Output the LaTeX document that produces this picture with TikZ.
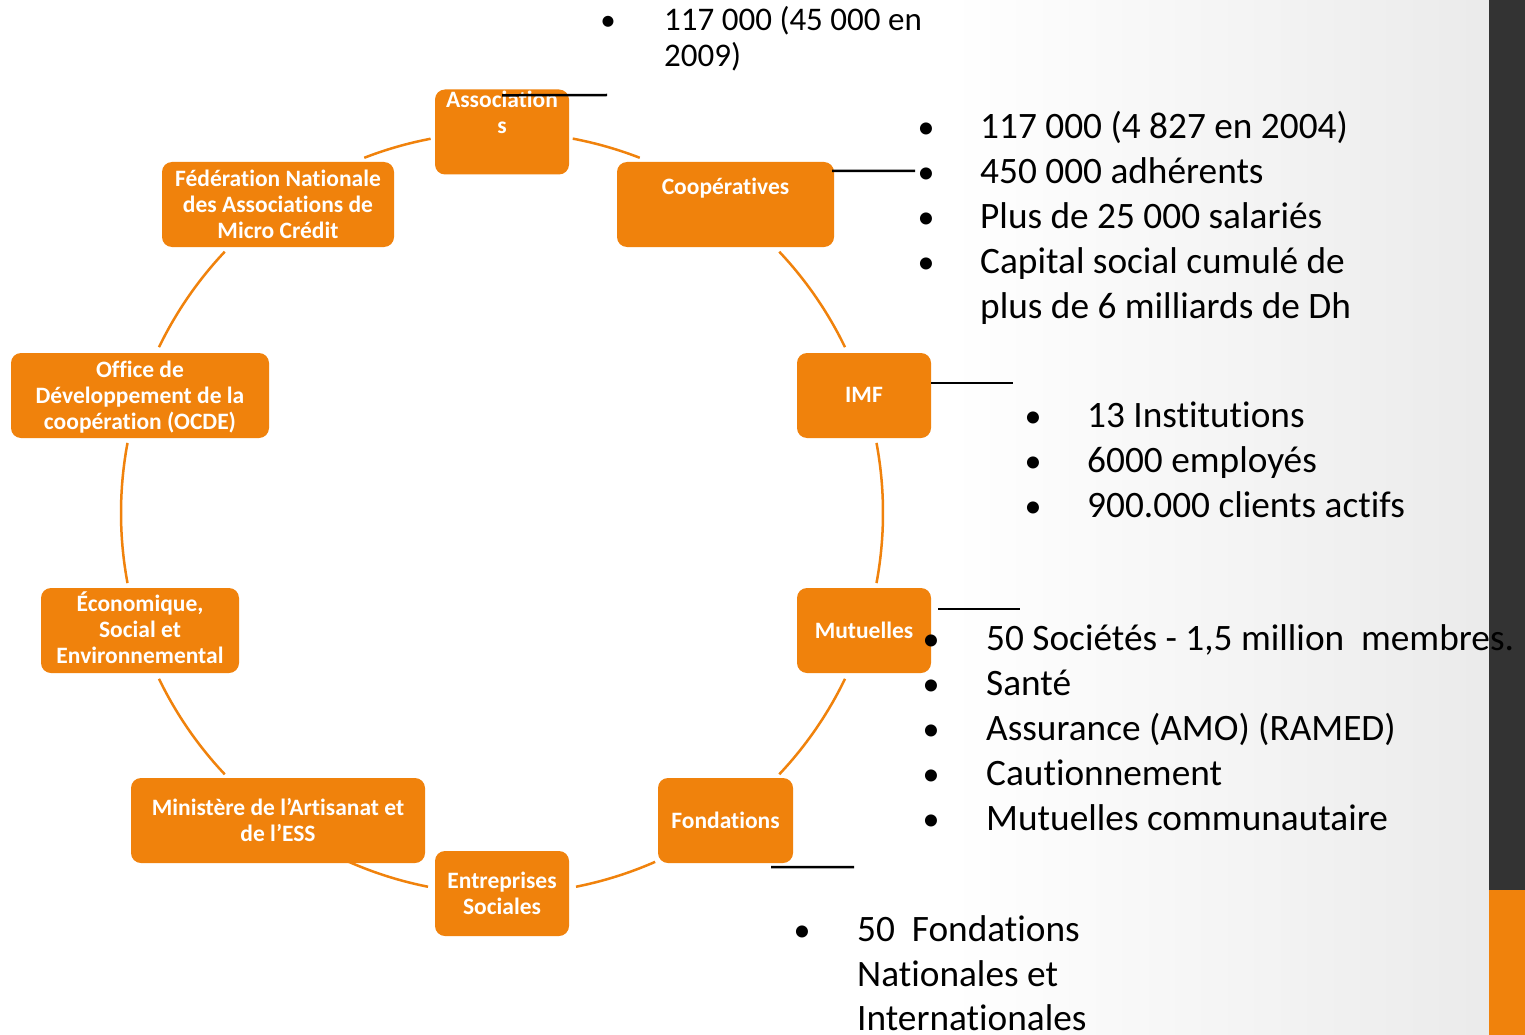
\documentclass[tikz,border=0pt]{standalone}
\usepackage{fontspec}
\setmainfont{Carlito}[Ligatures={NoCommon}]
\definecolor{orng}{RGB}{240,130,12}
\definecolor{darkbar}{RGB}{51,51,51}
\begin{document}
\begin{tikzpicture}[x=1pt,y=-1pt,
  box/.style={draw=none, fill=orng, rounded corners=10pt, inner sep=0pt, minimum width=#1, minimum height=85pt},
  lbl/.style={text=white, font=\fontsize{23.5}{26}\selectfont\bfseries, anchor=base, inner sep=0pt},
  txt/.style={text=black, font=\fontsize{37.3}{45}\selectfont, anchor=base west, inner sep=0pt},
  txts/.style={text=black, font=\fontsize{33}{37}\selectfont, anchor=base west, inner sep=0pt},
  bul/.style={text=black, font=\fontsize{34}{45}\selectfont, anchor=base, inner sep=0pt},
  arcl/.style={draw=orng, line width=2.5pt},
  lead/.style={draw=black, line width=2.5pt}]
\useasboundingbox (0,0) rectangle (1525,1035);
\fill[white] (0,0) rectangle (1525,1035);
\shade[left color=white, right color=black!8] (950,0) rectangle (1489,1035);
\fill[darkbar] (1489,0) rectangle (1525,890);
\fill[orng] (1489,890) rectangle (1525,1035);

% cycle arcs
\coordinate (c) at (502,513);
\foreach \a/\b in {-79.3/-68.8, -43.3/-25.8, -10.6/10.6, 25.8/43.3, 66.3/78.8,
                   101.2/113.7, 136.7/154.2, 169.4/190.6, 205.8/223.3, 248.8/259.2}
  \draw[arcl, domain=\a:\b, samples=40, variable=\t]
    plot ({502+381*cos(\t)}, {513+381*sin(\t)});

% boxes
\node[box=134pt] (assoc) at (502,132) {};
\node[box=217pt] (coop)  at (725.5,204.5) {};
\node[box=232pt] (fed)   at (278,204.5) {};
\node[box=258pt] (ocde)  at (140,395.5) {};
\node[box=198pt] (eco)   at (140,630.5) {};
\node[box=294pt] (min)   at (278,820.5) {};
\node[box=134pt] (entr)  at (502,893.5) {};
\node[box=135pt] (fond)  at (725.5,820.5) {};
\node[box=134pt] (mut)   at (864,630.5) {};
\node[box=134pt] (imf)   at (864,395.5) {};

% box labels
\node[lbl] (assoc1) at (502,108) {Association};
\node[lbl] (assoc2) at (502,134) {s};
\node[lbl] (coop1) at (725.5,194) {Coopératives};
\node[lbl] (fed1) at (278,186) {Fédération Nationale};
\node[lbl] (fed2) at (278,212) {des Associations de};
\node[lbl] (fed3) at (278,238) {Micro Crédit};
\node[lbl] (ocde1) at (140,377) {Office de};
\node[lbl] (ocde2) at (140,403) {Développement de la};
\node[lbl] (ocde3) at (140,429) {coopération (OCDE)};
\node[lbl] (eco1) at (140,611.5) {Économique,};
\node[lbl] (eco2) at (140,637.5) {Social et};
\node[lbl] (eco3) at (140,663.5) {Environnemental};
\node[lbl] (min1) at (278,815) {Ministère de l’Artisanat et};
\node[lbl] (min2) at (278,841) {de l’ESS};
\node[lbl] (entr1) at (502,888) {Entreprises};
\node[lbl] (entr2) at (502,914) {Sociales};
\node[lbl] (fond1) at (725.5,828.5) {Fondations};
\node[lbl] (mut1) at (864,638.5) {Mutuelles};
\node[lbl] (imf1) at (864,402.5) {IMF};

% leader lines
\coordinate (assocEnd) at (607,95);
\coordinate (coopEnd) at (915,171);
\coordinate (imfEnd) at (1013,383);
\coordinate (mutEnd) at (1020,609);
\coordinate (fondEnd) at (854,867);
\draw[lead] ([yshift=-6pt]assoc.north) -- (assocEnd);
\draw[lead] ([xshift=-2pt,yshift=-9pt]coop.north east) -- (coopEnd);
\draw[lead] ([yshift=12.5pt]imf.east) -- (imfEnd);
\draw[lead] ([xshift=7pt,yshift=21.5pt]mut.east) -- (mutEnd);
\draw[lead] ([xshift=45.5pt,yshift=-4pt]fond.south) -- (fondEnd);

% top text (Associations)
\node[bul, font=\fontsize{31}{37}\selectfont] (b0) at (608,30.5) {•};
\node[txts] (t01) at (664,30.5) {117 000 (45 000 en};
\node[txts] (t02) at (664,67) {2009)};

% Coopératives text
\node[bul] (b11) at (926,138.3) {•};
\node[bul] (b12) at (926,183.3) {•};
\node[bul] (b13) at (926,228.3) {•};
\node[bul] (b14) at (926,273.3) {•};
\node[txt] (t11) at (980,138.3) {117 000 (4 827 en 2004)};
\node[txt] (t12) at (980,183.3) {450 000 adhérents};
\node[txt] (t13) at (980,228.3) {Plus de 25 000 salariés};
\node[txt] (t14) at (980,273.3) {Capital social cumulé de};
\node[txt] (t15) at (980,318.3) {plus de 6 milliards de Dh};

% IMF text
\node[bul] (b21) at (1033,427) {•};
\node[bul] (b22) at (1033,472) {•};
\node[bul] (b23) at (1033,517) {•};
\node[txt] (t21) at (1087,427) {13 Institutions};
\node[txt] (t22) at (1087,472) {6000 employés};
\node[txt] (t23) at (1087,517) {900.000 clients actifs};

% Mutuelles text
\node[bul] (b31) at (931,650) {•};
\node[bul] (b32) at (931,695) {•};
\node[bul] (b33) at (931,740) {•};
\node[bul] (b34) at (931,785) {•};
\node[bul] (b35) at (931,830) {•};
\node[txt] (t31) at (986,650) {50 Sociétés - 1,5 million\ \ membres.};
\node[txt] (t32) at (986,695) {Santé};
\node[txt] (t33) at (986,740) {Assurance (AMO) (RAMED)};
\node[txt] (t34) at (986,785) {Cautionnement};
\node[txt] (t35) at (986,830) {Mutuelles communautaire};

% Fondations text
\node[bul] (b41) at (802,941.5) {•};
\node[txt] (t41) at (857,941.5) {50\ \ Fondations};
\node[txt] (t42) at (857,986) {Nationales et};
\node[txt] (t43) at (857,1030.5) {Internationales};
\end{tikzpicture}
\end{document}
